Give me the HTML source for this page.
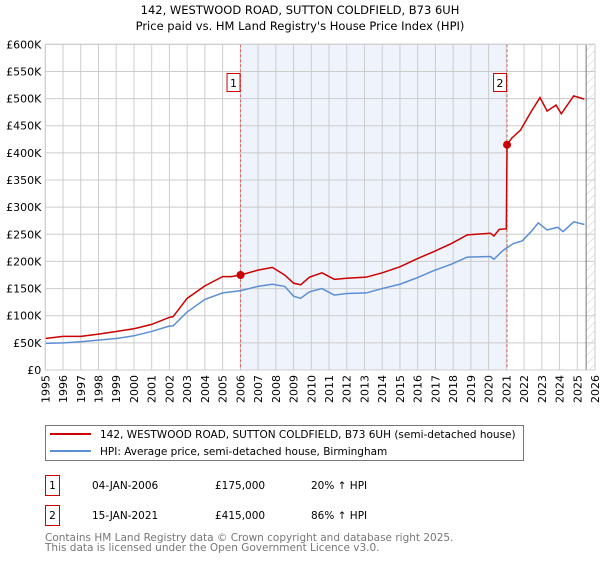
<!DOCTYPE html>
<html><head><meta charset="utf-8"><style>
body{margin:0;background:#fff;font-family:"DejaVu Sans","Liberation Sans",sans-serif;}
svg text{font-family:"DejaVu Sans","Liberation Sans",sans-serif;}
</style></head><body>
<svg id="chart" width="600" height="560" xmlns="http://www.w3.org/2000/svg">
<text x="300" y="14" text-anchor="middle" font-size="11.5">142, WESTWOOD ROAD, SUTTON COLDFIELD, B73 6UH</text>
<text x="300" y="30" text-anchor="middle" font-size="11.5">Price paid vs. HM Land Registry's House Price Index (HPI)</text>
<g id="plot"></g>
<g>
<rect x="45.5" y="425.5" width="478" height="35" fill="#fff" stroke="#777"/>
<line x1="50" y1="434" x2="91" y2="434" stroke="#cc0000" stroke-width="2"/>
<text x="100" y="438" font-size="10.5">142, WESTWOOD ROAD, SUTTON COLDFIELD, B73 6UH (semi-detached house)</text>
<line x1="50" y1="451" x2="91" y2="451" stroke="#5b8fd4" stroke-width="2"/>
<text x="100" y="455" font-size="10.5">HPI: Average price, semi-detached house, Birmingham</text>
</g>
<g font-size="10.5">
<rect x="45.5" y="475.5" width="14" height="20" fill="#fff" stroke="#cc0000"/>
<text x="52.5" y="489" text-anchor="middle">1</text>
<text x="92" y="489">04-JAN-2006</text><text x="215" y="489">£175,000</text><text x="311" y="489">20% ↑ HPI</text>
</g>
<g font-size="10.5">
<rect x="45.5" y="505.5" width="14" height="20" fill="#fff" stroke="#cc0000"/>
<text x="52.5" y="519" text-anchor="middle">2</text>
<text x="92" y="519">15-JAN-2021</text><text x="215" y="519">£415,000</text><text x="311" y="519">86% ↑ HPI</text>
</g>
<text x="45" y="541" font-size="10.5" fill="#777">Contains HM Land Registry data © Crown copyright and database right 2025.</text>
<text x="45" y="551" font-size="10.5" fill="#777">This data is licensed under the Open Government Licence v3.0.</text>
</svg>
<script>
const yearTicks=[1995,1996,1997,1998,1999,2000,2001,2002,2003,2004,2005,2006,2007,2008,2009,2010,2011,2012,2013,2014,2015,2016,2017,2018,2019,2020,2021,2022,2023,2024,2025,2026];
const valueTicks=[0,50,100,150,200,250,300,350,400,450,500,550,600];
const valueLabels=["£0","£50K","£100K","£150K","£200K","£250K","£300K","£350K","£400K","£450K","£500K","£550K","£600K"];
const hpiYears=[1995,1996,1997,1998,1999,2000,2001,2002,2002.2,2003,2004,2005,2006,2007,2007.8,2008.5,2009,2009.4,2009.9,2010.6,2011.3,2012,2013.1,2014,2015,2015.9,2016.9,2017.9,2018.8,2020.1,2020.3,2020.8,2021.4,2021.9,2022.4,2022.8,2023.3,2023.9,2024.2,2024.8,2025.4];
const hpiValues=[49,50,52,55,58,63,71,81,81,107,130,142,146,154,158,154,136,132,144,150,138,141,142,150,158,169,183,195,208,209,204,220,233,238,255,271,258,263,255,273,268];
const priceYears=[1995,1996,1997,1998,1999,2000,2001,2002,2002.2,2003,2004,2005,2005.5,2006.01,2007,2007.8,2008.5,2009,2009.4,2009.9,2010.6,2011.3,2012,2013.1,2014,2015,2015.9,2016.9,2017.9,2018.8,2020.1,2020.3,2020.6,2021.0,2021.04,2021.3,2021.8,2022.4,2022.9,2023.3,2023.8,2024.1,2024.8,2025.4];
const priceValues=[58,62,62,66,71,76,84,97,98,132,155,172,172,175,184,189,175,160,157,171,179,167,169,171,179,190,204,218,233,249,252,247,259,260,415,427,442,476,502,477,488,472,505,499];
const saleYears=[2006.01,2021.04];
const saleValues=[175,415];
const saleLabels=["1","2"];

const X0=45.3,X1=595,Y0=370,Y1=44.3;
const xs=y=>X0+(y-1995)*(X1-X0)/31;
const ys=v=>Y0-v*(Y0-Y1)/600;
const NS="http://www.w3.org/2000/svg";
const plot=document.getElementById('plot');
function mk(tag,attrs,parent){const e=document.createElementNS(NS,tag);for(const k in attrs)e.setAttribute(k,attrs[k]);(parent||plot).appendChild(e);return e;}
let sh=mk('rect',{x:xs(saleYears[0]),y:Y1,width:xs(saleYears[1])-xs(saleYears[0]),height:Y0-Y1,fill:'#eef3fc'});


const defs=mk('defs',{});
const pat=mk('pattern',{id:'hatch',width:6,height:6,patternUnits:'userSpaceOnUse',patternTransform:'rotate(45)'},defs);
mk('line',{x1:0,y1:0,x2:0,y2:6,stroke:'#ccc','stroke-width':1},pat);
let hr=mk('rect',{x:xs(2025.5),y:Y1,width:X1-xs(2025.5),height:Y0-Y1,fill:'url(#hatch)'});


valueTicks.forEach((v,i)=>{
 const l=mk('line',{x1:X0,x2:X1,y1:ys(v),y2:ys(v),stroke:'#ccc','stroke-width':1});
 
 
 const t=mk('text',{x:X0-4,y:ys(v)+4,'text-anchor':'end','font-size':11});
 t.textContent=valueLabels[i];
 
 
});
yearTicks.forEach(yr=>{
 const l=mk('line',{x1:xs(yr),x2:xs(yr),y1:Y1,y2:Y0,stroke:'#ccc','stroke-width':1});
 
 
 const t=mk('text',{x:0,y:0,'text-anchor':'end','font-size':11,transform:`translate(${xs(yr)+4},${Y0+5}) rotate(-90)`});
 t.textContent=yr;
 
 
});
let vl=mk('line',{x1:xs(2025.5),x2:xs(2025.5),y1:Y1,y2:Y0,stroke:'#777','stroke-width':1});


saleYears.forEach((yr,i)=>{
 const l=mk('line',{x1:xs(yr),x2:xs(yr),y1:Y1,y2:Y0,stroke:'#e06666','stroke-width':1,'stroke-dasharray':'3,2'});
 
 
 const r=mk('rect',{x:xs(yr)-13.5,y:73.5,width:13,height:18,fill:'#fff',stroke:'#cc0000'});
 
 
 const t=mk('text',{x:xs(yr)-7,y:87,'text-anchor':'middle','font-size':11});
 t.textContent=saleLabels[i];
 
 
});
const hp=mk('polyline',{points:hpiYears.map((y,i)=>xs(y)+','+ys(hpiValues[i])).join(' '),fill:'none',stroke:'#5b8fd4','stroke-width':1.5});


const pp=mk('polyline',{points:priceYears.map((y,i)=>xs(y)+','+ys(priceValues[i])).join(' '),fill:'none',stroke:'#cc0000','stroke-width':1.5});


saleYears.forEach((yr,i)=>{
 const c=mk('circle',{cx:xs(yr),cy:ys(saleValues[i]),r:4,fill:'#cc0000'});
 
 
});
const fr=mk('rect',{x:X0,y:Y1,width:X1-X0,height:Y0-Y1,fill:'none',stroke:'#ccc'});


</script>
</body></html>
